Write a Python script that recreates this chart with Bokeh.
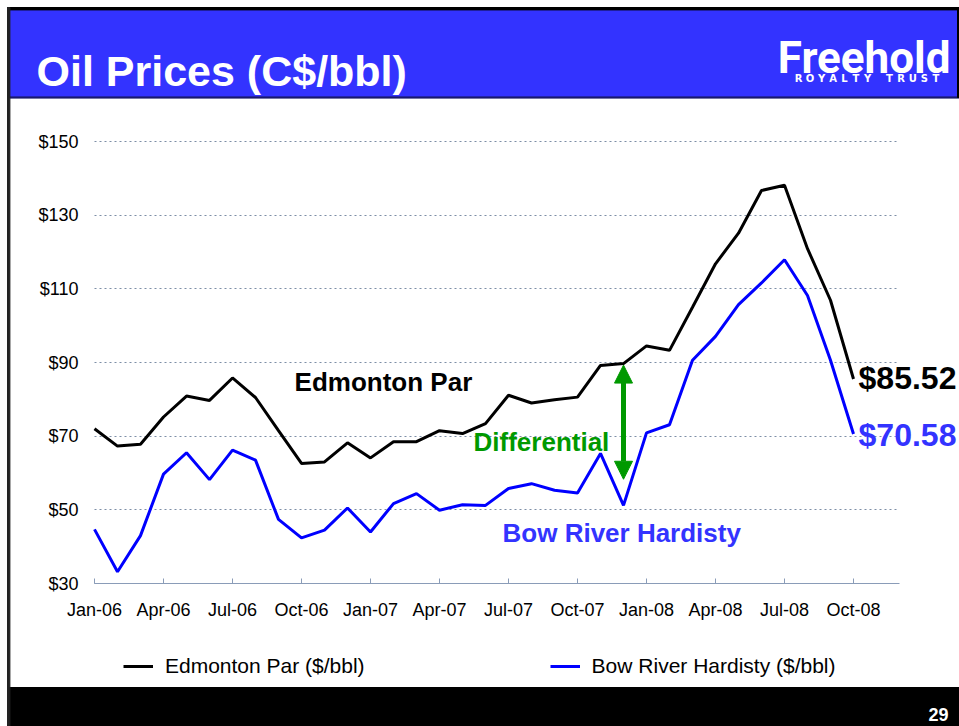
import numpy as np
from bokeh.plotting import figure
from bokeh.models import (FixedTicker, PrintfTickFormatter, Label, Arrow, NormalHead,
                          Legend, LegendItem, Range1d, Grid)
from bokeh.embed import file_html
from bokeh.resources import INLINE

# ---------------- data ----------------
months = ["Jan-06", "Feb-06", "Mar-06", "Apr-06", "May-06", "Jun-06", "Jul-06", "Aug-06",
          "Sep-06", "Oct-06", "Nov-06", "Dec-06",
          "Jan-07", "Feb-07", "Mar-07", "Apr-07", "May-07", "Jun-07", "Jul-07", "Aug-07",
          "Sep-07", "Oct-07", "Nov-07", "Dec-07",
          "Jan-08", "Feb-08", "Mar-08", "Apr-08", "May-08", "Jun-08", "Jul-08", "Aug-08",
          "Sep-08", "Oct-08"]
tick_months = ["Jan-06", "Apr-06", "Jul-06", "Oct-06", "Jan-07", "Apr-07", "Jul-07",
               "Oct-07", "Jan-08", "Apr-08", "Jul-08", "Oct-08"]
edmonton_par = [72.0, 67.3, 67.8, 75.2, 80.9, 79.7, 85.8, 80.5, 71.5, 62.6, 63.0, 68.2,
                64.1, 68.5, 68.5, 71.5, 70.7, 73.4, 81.1, 79.0, 79.9, 80.6, 89.2, 89.7,
                94.5, 93.3, 105.0, 116.8, 125.1, 136.7, 138.1, 120.9, 106.9, 85.52]
bow_river_hardisty = [44.7, 33.2, 43.0, 59.7, 65.5, 58.2, 66.2, 63.5, 47.4, 42.4, 44.5, 50.5,
                      44.0, 51.7, 54.4, 49.9, 51.4, 51.2, 55.8, 57.1, 55.3, 54.6, 65.3, 51.2,
                      70.9, 73.1, 90.6, 97.1, 105.7, 111.6, 117.9, 108.2, 90.6, 70.58]
y_ticks = [30, 50, 70, 90, 110, 130, 150]
series_names = ["Edmonton Par ($/bbl)", "Bow River Hardisty ($/bbl)"]
differential_month = "Dec-07"
page_number = "29"

# ---------------- geometry / style ----------------
W, H = 959, 726
XJ = 94.0            # canvas px of the first month
PXM = 23.0           # px per month
Y30 = 583.0          # canvas px (from top) of value 30
PXU = 442.0 / 120.0  # px per dollar
X_END = 35           # right end of axis / grid (months)

def fx(px):
    return (px - XJ) / PXM

def fy(py):
    return 30 + (Y30 - py) / PXU

FONT = "Liberation Sans"
BAR_BLUE = "#3333ff"
LINE_BLUE = "#0000ff"
GREEN = "#009900"
AXIS_COL = "#8a9cb8"
GRID_COL = "#7d8ea6"

x = list(range(len(months)))
tick_pos = [months.index(m) for m in tick_months]

p = figure(width=W, height=H, x_range=Range1d(fx(0), fx(W)), y_range=Range1d(fy(H), fy(0)),
           output_backend="svg", toolbar_location=None, min_border=0,
           outline_line_color=None, background_fill_color="white", border_fill_color="white")
p.title.visible = False

# slide decoration: header bar, footer bar, border lines
p.quad(left=fx(7), right=fx(W), top=fy(7), bottom=fy(97), color=BAR_BLUE)
p.quad(left=fx(7), right=fx(W), top=fy(7), bottom=fy(9.4), color="black")
p.quad(left=fx(9.4), right=fx(W), top=fy(96.4), bottom=fy(97.6), color="#1a1a70")
p.quad(left=fx(957), right=fx(W), top=fy(7), bottom=fy(97), color="black")
p.quad(left=fx(7), right=fx(W), top=fy(687), bottom=fy(H), color="black")
p.quad(left=fx(7), right=fx(9.4), top=fy(7), bottom=fy(H), color="#222222")

# grid
if "cross_bounds" in Grid.properties():
    p.ygrid.ticker = FixedTicker(ticks=y_ticks)
    p.ygrid.cross_bounds = (0, X_END)
    p.ygrid.grid_line_dash = "2 3"
    p.ygrid.grid_line_color = GRID_COL
    p.ygrid.grid_line_width = 1
else:
    p.ygrid.visible = False
    p.segment(x0=[0] * len(y_ticks), x1=[X_END] * len(y_ticks), y0=y_ticks, y1=y_ticks,
              line_color=GRID_COL, line_dash="2 3", line_width=1)
p.xgrid.visible = False

# data
r1 = p.line(x, edmonton_par, line_color="black", line_width=3)
r2 = p.line(x, bow_river_hardisty, line_color=LINE_BLUE, line_width=3)

# axes
xa = p.xaxis[0]
xa.fixed_location = y_ticks[0]
xa.bounds = (0, X_END)
xa.ticker = FixedTicker(ticks=tick_pos)
xa.major_label_overrides = {i: lab for i, lab in zip(tick_pos, tick_months)}
xa.minor_tick_line_color = None
xa.major_tick_in = 5
xa.major_tick_out = 0
xa.axis_line_color = AXIS_COL
xa.major_tick_line_color = AXIS_COL
xa.major_label_text_font = FONT
xa.major_label_text_font_size = "18px"
xa.major_label_text_color = "black"
xa.major_label_standoff = 16

ya = p.yaxis[0]
ya.fixed_location = 0
ya.bounds = (y_ticks[0], y_ticks[-1])
ya.ticker = FixedTicker(ticks=y_ticks)
ya.formatter = PrintfTickFormatter(format="$%d")
ya.axis_line_color = None
ya.major_tick_line_color = None
ya.minor_tick_line_color = None
ya.major_tick_in = 0
ya.major_tick_out = 0
ya.major_label_standoff = 16
ya.major_label_text_font = FONT
ya.major_label_text_font_size = "18px"
ya.major_label_text_color = "black"

# legend
legend = Legend(items=[LegendItem(label=series_names[0], renderers=[r1]),
                       LegendItem(label=series_names[1], renderers=[r2])],
                orientation="horizontal", location=(123, 48), padding=0, margin=0,
                spacing=185, glyph_width=30, glyph_height=20, label_standoff=12,
                border_line_color=None, background_fill_alpha=0,
                label_text_font=FONT, label_text_font_size="21px", label_text_color="black")
p.add_layout(legend, "center")

# differential arrow
d = months.index(differential_month)
p.add_layout(Arrow(start=NormalHead(size=18, fill_color=GREEN, line_color=GREEN),
                   end=NormalHead(size=18, fill_color=GREEN, line_color=GREEN),
                   x_start=d, y_start=58.3, x_end=d, y_end=89.3,
                   line_color=GREEN, line_width=5))

def lab(xv, yv, text, color, size="26px", align="left", baseline="middle", font=FONT,
        style="bold"):
    p.add_layout(Label(x=xv, y=yv, text=text, text_font=font, text_font_style=style,
                       text_font_size=size, text_color=color, text_baseline=baseline,
                       text_align=align))

lab(8.7, 84.6, "Edmonton Par", "black")
lab(16.48, 68.5, "Differential", GREEN)
lab(17.74, 43.8, "Bow River Hardisty", BAR_BLUE)
last = len(months) - 1
lab(last + 0.22, 85.7, "$%.2f" % edmonton_par[-1], "black", "32px")
lab(last + 0.22, 70.2, "$%.2f" % bow_river_hardisty[-1], BAR_BLUE, "32px")

# header texts
lab(fx(36), fy(70), "Oil Prices (C$/bbl)", "white", "43px", baseline="alphabetic")
lab(fx(950), fy(57), "Freehold", "white", "44px", align="right", baseline="alphabetic",
    font="Roboto")
sub_letters = list("ROYALTY") + list("TRUST")
sub_x = [798 + i * 11.5 for i in range(7)] + [889 + i * 11.6 for i in range(5)]
for ch, xx in zip(sub_letters, sub_x):
    lab(fx(xx), fy(78), ch, "white", "10px", align="center", font="DejaVu Sans")

# footer text
lab(fx(948), fy(714), page_number, "white", "18px", align="right", baseline="alphabetic")

open("out.html", "w").write(file_html(p, INLINE))
